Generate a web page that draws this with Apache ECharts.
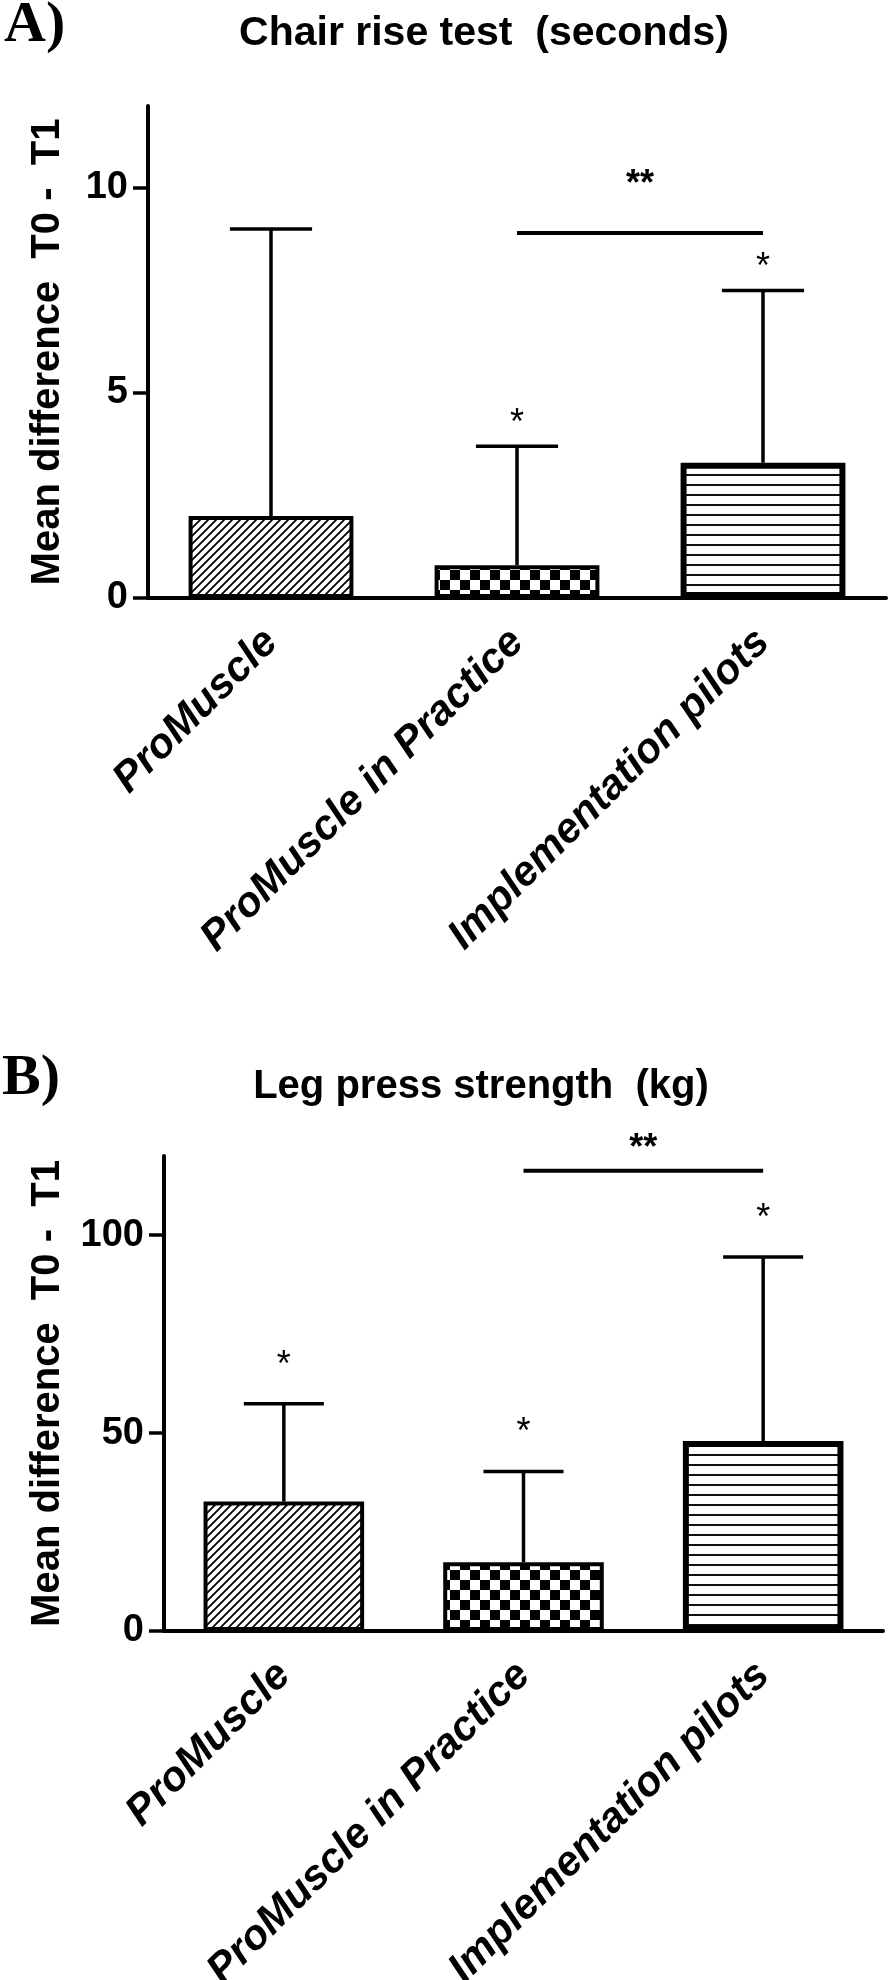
<!DOCTYPE html>
<html>
<head>
<meta charset="utf-8">
<script src="https://cdn.jsdelivr.net/npm/echarts@6/dist/echarts.min.js"></script>
<style>
html, body { margin: 0; padding: 0; background: #fff; }
#main { width: 893px; height: 1980px; }
</style>
</head>
<body>
<div id="main"></div>
<script>
var categories = ['ProMuscle', 'ProMuscle in Practice', 'Implementation pilots'];

// A) chair rise test (seconds)
var chairMean = [2.0, 0.8, 3.3];
var chairSd = [7.0, 2.9, 4.2];
var chairStars = ['', '*', '*'];
var chairSig = [1, 8.9, 2];      // from category, height, to category
var chairTicks = [0, 5, 10];
var chairMax = 12;

// B) leg press strength (kg)
var legMean = [32.7, 17.4, 48.0];
var legSd = [24.7, 22.9, 46.5];
var legStars = ['*', '*', '*'];
var legSig = [1, 116.3, 2];
var legTicks = [0, 50, 100];
var legMax = 120;

var sigLabel = '**';
var FONT = '"Liberation Sans", Arial, sans-serif';

function hatch() {
    var c = document.createElement('canvas');
    c.width = 8; c.height = 8;
    var g = c.getContext('2d');
    g.fillStyle = '#fff'; g.fillRect(0, 0, 8, 8);
    g.strokeStyle = '#000'; g.lineWidth = 1.8;
    g.beginPath();
    g.moveTo(-2, 10); g.lineTo(10, -2);
    g.moveTo(-2, 2); g.lineTo(2, -2);
    g.moveTo(6, 10); g.lineTo(10, 6);
    g.stroke();
    return c;
}
function checker() {
    var c = document.createElement('canvas');
    c.width = 20; c.height = 20;
    var g = c.getContext('2d');
    g.fillStyle = '#fff'; g.fillRect(0, 0, 20, 20);
    g.fillStyle = '#000';
    g.fillRect(0, 0, 10, 10);
    g.fillRect(10, 10, 10, 10);
    return c;
}
function stripes() {
    var c = document.createElement('canvas');
    c.width = 10; c.height = 10;
    var g = c.getContext('2d');
    g.fillStyle = '#fff'; g.fillRect(0, 0, 10, 10);
    g.fillStyle = '#111'; g.fillRect(0, 4, 10, 2);
    return c;
}
var patterns = [hatch(), checker(), stripes()];
var borders = [4, 4, 6];

function barData(means) {
    return means.map(function (v, i) {
        return {
            value: v,
            itemStyle: {
                color: { image: patterns[i], repeat: 'repeat' },
                borderColor: '#000',
                borderWidth: borders[i]
            }
        };
    });
}

function panelSeries(idx, means, sds, stars, sig, starGap, sigGap) {
    var errData = means.map(function (m, i) { return [i, m, m + sds[i]]; });
    return [
        {
            type: 'bar',
            xAxisIndex: idx, yAxisIndex: idx,
            barWidth: '67%',
            data: barData(means),
            z: 2
        },
        {
            type: 'custom',
            xAxisIndex: idx, yAxisIndex: idx,
            data: errData,
            z: 1,
            renderItem: function (params, api) {
                var x = api.value(0);
                var lo = api.coord([x, api.value(1)]);
                var hi = api.coord([x, api.value(2)]);
                var half = api.size([1, 0])[0] * 0.167;
                var line = { stroke: '#000', lineWidth: 3.5 };
                var kids = [
                    { type: 'line', shape: { x1: lo[0], y1: lo[1], x2: hi[0], y2: hi[1] }, style: line },
                    { type: 'line', shape: { x1: hi[0] - half, y1: hi[1], x2: hi[0] + half, y2: hi[1] }, style: line }
                ];
                var s = stars[params.dataIndex];
                if (s) {
                    kids.push({
                        type: 'text',
                        style: { text: s, x: hi[0], y: hi[1] - starGap, font: '36px ' + FONT, fill: '#000', align: 'center', verticalAlign: 'middle' }
                    });
                }
                return { type: 'group', children: kids };
            }
        },
        {
            type: 'custom',
            xAxisIndex: idx, yAxisIndex: idx,
            data: [sig],
            renderItem: function (params, api) {
                var a = api.coord([api.value(0), api.value(1)]);
                var b = api.coord([api.value(2), api.value(1)]);
                return {
                    type: 'group',
                    children: [
                        { type: 'line', shape: { x1: a[0], y1: a[1], x2: b[0], y2: b[1] }, style: { stroke: '#000', lineWidth: 4 } },
                        { type: 'text', style: { text: sigLabel, x: (a[0] + b[0]) / 2, y: a[1] - sigGap, font: 'bold 36px ' + FONT, fill: '#000', align: 'center', verticalAlign: 'middle' } }
                    ]
                };
            }
        }
    ];
}

function yAxis(idx, max, ticks, gap) {
    return {
        gridIndex: idx,
        type: 'value',
        min: 0, max: max,
        name: 'Mean difference  T0 -  T1',
        nameLocation: 'middle',
        nameRotate: 90,
        nameGap: gap,
        nameTextStyle: { fontSize: 40, fontWeight: 'bold', color: '#000', fontFamily: FONT },
        axisLine: { show: true, lineStyle: { color: '#000', width: 4 } },
        axisTick: { show: true, length: 15, lineStyle: { color: '#000', width: 3.5 }, customValues: ticks },
        axisLabel: { customValues: ticks, fontSize: 38, fontWeight: 'bold', color: '#000', fontFamily: FONT, margin: 20 },
        splitLine: { show: false }
    };
}
function xAxis(idx) {
    return {
        gridIndex: idx,
        type: 'category',
        data: categories,
        axisLine: { lineStyle: { color: '#000', width: 4 } },
        axisTick: { alignWithLabel: true, length: 15, lineStyle: { color: '#000', width: 3.5 } },
        axisLabel: { rotate: 45, interval: 0, fontSize: 42, fontWeight: 'bold', fontStyle: 'italic', color: '#000', fontFamily: FONT, margin: 38 }
    };
}

var myChart = echarts.init(document.getElementById('main'));
var option = {
    animation: false,
    backgroundColor: '#fff',
    textStyle: { fontFamily: FONT },
    grid: [
        { left: 148, right: 7, top: 106, height: 492, outerBoundsMode: 'none' },
        { left: 164, right: 10, top: 1156, height: 475, outerBoundsMode: 'none' }
    ],
    xAxis: [xAxis(0), xAxis(1)],
    yAxis: [yAxis(0, chairMax, chairTicks, 80), yAxis(1, legMax, legTicks, 96)],
    graphic: [
        { type: 'text', x: 4, y: 26, style: { text: 'A)', font: 'bold 58px "Liberation Serif", serif', fill: '#000', align: 'left', verticalAlign: 'middle' } },
        { type: 'text', x: 484, y: 34, style: { text: 'Chair rise test  (seconds)', font: 'bold 41px ' + FONT, fill: '#000', align: 'center', verticalAlign: 'middle' } },
        { type: 'text', x: 2, y: 1079, style: { text: 'B)', font: 'bold 58px "Liberation Serif", serif', fill: '#000', align: 'left', verticalAlign: 'middle' } },
        { type: 'text', x: 481, y: 1087, style: { text: 'Leg press strength  (kg)', font: 'bold 40px ' + FONT, fill: '#000', align: 'center', verticalAlign: 'middle' } }
    ],
    series: panelSeries(0, chairMean, chairSd, chairStars, chairSig, 22, 48)
        .concat(panelSeries(1, legMean, legSd, legStars, legSig, 38, 22))
};
myChart.setOption(option);
</script>
</body>
</html>
